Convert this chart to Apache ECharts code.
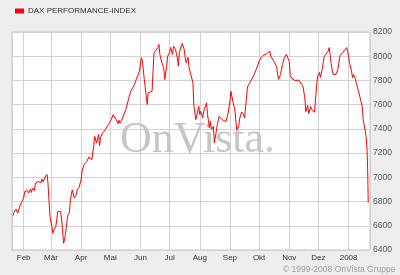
<!DOCTYPE html>
<html><head><meta charset="utf-8">
<script src="https://cdn.jsdelivr.net/npm/echarts@6/dist/echarts.min.js"></script>
<style>html,body{margin:0;padding:0;background:#eeeeee;}#c{width:400px;height:275px;}</style>
</head><body><div id="c"></div>
<script>
const seriesName = 'DAX PERFORMANCE-INDEX';
const monthNames = ['Jan','Feb','Mär','Apr','Mai','Jun','Jul','Aug','Sep','Okt','Nov','Dez'];
const yTicks = [6400, 6600, 6800, 7000, 7200, 7400, 7600, 7800, 8000, 8200];
const copyrightText = '© 1999-2008 OnVista Gruppe';
const watermarkText = 'OnVista';

const dates = [
'2007-01-21','2007-01-22','2007-01-24','2007-01-26','2007-01-28','2007-01-30','2007-02-01','2007-02-02','2007-02-03','2007-02-05',
'2007-02-06','2007-02-08','2007-02-09','2007-02-10','2007-02-12','2007-02-13','2007-02-14','2007-02-16','2007-02-17','2007-02-19',
'2007-02-20','2007-02-21','2007-02-23','2007-02-25','2007-02-26','2007-02-27','2007-02-28','2007-03-02','2007-03-03','2007-03-04',
'2007-03-06','2007-03-07','2007-03-08','2007-03-10','2007-03-11','2007-03-12','2007-03-13','2007-03-14','2007-03-15','2007-03-16',
'2007-03-17','2007-03-18','2007-03-20','2007-03-21','2007-03-23','2007-03-25','2007-03-27','2007-03-28','2007-03-30','2007-04-01',
'2007-04-02','2007-04-04','2007-04-07','2007-04-09','2007-04-12','2007-04-14','2007-04-15','2007-04-17','2007-04-19','2007-04-20',
'2007-04-21','2007-04-23','2007-04-25','2007-04-26','2007-04-28','2007-04-30','2007-05-02','2007-05-04','2007-05-05','2007-05-07',
'2007-05-09','2007-05-10','2007-05-11','2007-05-13','2007-05-14','2007-05-15','2007-05-17','2007-05-19','2007-05-22','2007-05-24',
'2007-05-26','2007-05-27','2007-05-29','2007-05-31','2007-06-02','2007-06-03','2007-06-05','2007-06-07','2007-06-08','2007-06-09',
'2007-06-11','2007-06-13','2007-06-14','2007-06-15','2007-06-17','2007-06-19','2007-06-20','2007-06-21','2007-06-23','2007-06-25',
'2007-06-26','2007-06-28','2007-06-29','2007-07-01','2007-07-02','2007-07-04','2007-07-05','2007-07-07','2007-07-08','2007-07-09',
'2007-07-10','2007-07-11','2007-07-13','2007-07-14','2007-07-16','2007-07-17','2007-07-18','2007-07-20','2007-07-21','2007-07-23',
'2007-07-25','2007-07-26','2007-07-28','2007-07-29','2007-07-31','2007-08-01','2007-08-02','2007-08-04','2007-08-05','2007-08-06',
'2007-08-08','2007-08-09','2007-08-11','2007-08-12','2007-08-13','2007-08-15','2007-08-16','2007-08-18','2007-08-19','2007-08-21',
'2007-08-23','2007-08-25','2007-08-26','2007-08-28','2007-08-30','2007-09-01','2007-09-02','2007-09-04','2007-09-06','2007-09-07',
'2007-09-08','2007-09-10','2007-09-11','2007-09-13','2007-09-15','2007-09-16','2007-09-18','2007-09-19','2007-09-21','2007-09-23',
'2007-09-25','2007-09-26','2007-09-28','2007-09-30','2007-10-01','2007-10-03','2007-10-05','2007-10-07','2007-10-08','2007-10-10',
'2007-10-12','2007-10-13','2007-10-15','2007-10-17','2007-10-19','2007-10-20','2007-10-21','2007-10-23','2007-10-24','2007-10-25',
'2007-10-27','2007-10-29','2007-10-30','2007-10-31','2007-11-01','2007-11-02','2007-11-04','2007-11-06','2007-11-07','2007-11-09',
'2007-11-11','2007-11-13','2007-11-15','2007-11-17','2007-11-18','2007-11-20','2007-11-21','2007-11-23','2007-11-24','2007-11-26',
'2007-11-27','2007-11-29','2007-11-30','2007-12-02','2007-12-03','2007-12-05','2007-12-06','2007-12-07','2007-12-09','2007-12-11',
'2007-12-12','2007-12-13','2007-12-14','2007-12-16','2007-12-18','2007-12-19','2007-12-21','2007-12-23','2007-12-24','2007-12-26',
'2007-12-28','2007-12-30','2007-12-31','2008-01-01','2008-01-02','2008-01-04','2008-01-05','2008-01-06','2008-01-08','2008-01-09',
'2008-01-11','2008-01-12','2008-01-13','2008-01-15','2008-01-16','2008-01-17','2008-01-19','2008-01-20','2008-01-20 15:00','2008-01-21 04:00'
];
const values = [
6682,6709,6737,6704,6759,6800,6828,6883,6875,6891,
6870,6903,6875,6911,6891,6952,6941,6966,6974,6957,
6986,6963,7002,7024,6952,6814,6676,6593,6538,6566,
6593,6648,6717,6720,6717,6648,6566,6455,6483,6538,
6593,6676,6709,6814,6897,6828,6856,6897,6919,6980,
7049,7104,7131,7168,7145,7256,7338,7284,7353,7261,
7325,7367,7380,7394,7408,7449,7477,7518,7532,7477,
7444,7471,7449,7477,7463,7491,7560,7622,7711,7739,
7767,7794,7808,7877,7988,7960,7808,7670,7601,7698,
7684,7711,7877,8029,8042,8071,8098,8015,7946,7905,
7808,7918,8001,8029,8071,8015,8084,8057,8071,7988,
7918,8029,8084,8106,8057,7988,7946,7990,7905,7918,
7781,7587,7477,7463,7587,7518,7546,7491,7546,7532,
7615,7518,7410,7463,7394,7421,7284,7380,7435,7504,
7493,7468,7452,7463,7526,7628,7711,7626,7560,7477,
7394,7421,7485,7539,7518,7491,7651,7746,7775,7802,
7786,7850,7891,7932,7960,7988,8007,7996,8015,8001,
8042,8001,7988,7946,7916,7850,7808,7850,7858,7932,
7988,8015,8001,8029,7957,7841,7812,7812,7800,7816,
7802,7787,7753,7659,7543,7593,7526,7585,7560,7576,
7539,7742,7829,7866,7825,7899,7953,7999,8019,8042,
8071,8015,7941,7850,7837,7850,7891,8003,8019,8032,
8042,8071,8042,7994,7946,7877,7822,7850,7816,7775,
7717,7725,7731,7587,7477,7435,7338,7228,7049,6792
];

const chart = echarts.init(document.getElementById('c'), null, {renderer: 'canvas'});
chart.setOption({
  animation: false,
  backgroundColor: '#eeeeee',
  legend: {
    left: 10, top: 2,
    itemWidth: 9, itemHeight: 5, itemGap: 4,
    icon: 'rect',
    textStyle: {fontFamily: 'Liberation Sans, Arial, sans-serif', fontSize: 8, color: '#333', padding: [0,0,0,-1]},
    data: [seriesName]
  },
  grid: {
    left: 12, top: 32, right: 30, bottom: 25,
    show: true, backgroundColor: '#ffffff', borderColor: '#c4c4c4', borderWidth: 1
  },
  xAxis: {
    type: 'time',
    min: '2007-01-20', max: '2008-01-23',
    splitNumber: 12,
    axisLine: {show: false},
    axisTick: {show: false},
    axisLabel: {
      showMinLabel: false, showMaxLabel: false,
      margin: 4,
      fontFamily: 'Liberation Sans, Arial, sans-serif', fontSize: 8, color: '#333',
      formatter: function (v) {
        const d = new Date(v);
        return d.getMonth() === 0 ? String(d.getFullYear()) : monthNames[d.getMonth()];
      }
    },
    splitLine: {show: true, lineStyle: {color: '#d2d2d2', width: 1}}
  },
  yAxis: {
    type: 'value', position: 'right',
    min: yTicks[0], max: yTicks[yTicks.length - 1], interval: 200,
    axisLine: {show: false}, axisTick: {show: false},
    axisLabel: {
      margin: 3, fontFamily: 'Liberation Sans, Arial, sans-serif', fontSize: 8.5, color: '#555',
      formatter: function (v) { return String(v); }
    },
    splitLine: {show: true, lineStyle: {color: '#d2d2d2', width: 1}}
  },
  graphic: [
    {
      type: 'text', left: 120, top: 118, z: 1, silent: true,
      style: {
        text: '{a|' + watermarkText + '}{b|.}',
        rich: {
          a: {fontFamily: 'Liberation Serif, Times New Roman, serif', fontSize: 44, fill: '#c6c6c6'},
          b: {fontFamily: 'Liberation Serif, Times New Roman, serif', fontSize: 44, fill: '#e6c3cb'}
        }
      }
    },
    {
      type: 'text', left: 283, top: 265, silent: true,
      style: {text: copyrightText, fontFamily: 'Liberation Sans, Arial, sans-serif', fontSize: 8.5, fill: '#a0a0a0'}
    }
  ],
  series: [{
    name: seriesName,
    type: 'line',
    showSymbol: false,
    z: 3,
    lineStyle: {color: '#ff0000', width: 1},
    itemStyle: {color: '#ff0000'},
    data: dates.map((d, i) => [d, values[i]])
  }]
});
</script>
</body></html>
